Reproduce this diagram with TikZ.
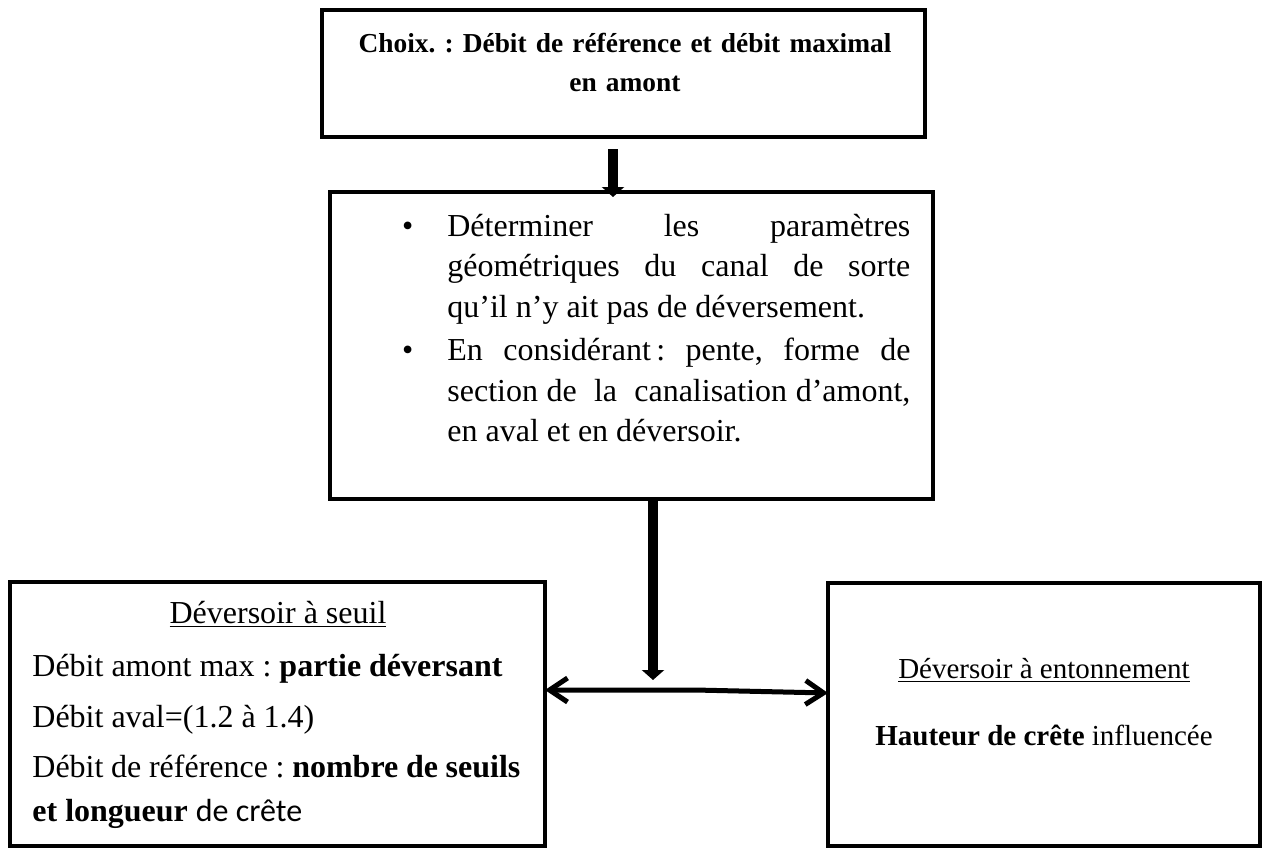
\documentclass[tikz,border=0pt]{standalone}
\usepackage{fontspec}
\setmainfont{Liberation Serif}
\newfontfamily\crestfont{Carlito}
\usetikzlibrary{arrows.meta}
\frenchspacing

\def\boxLine{2pt}
\def\flowShaft{5pt}
\def\linkShaft{2.5pt}

\tikzset{
    stepbox/.style = {draw, line width = \boxLine, inner sep = 0pt, outer sep = 0pt, anchor = north west},
    flowarrow/.style = {line width = \flowShaft, -{Triangle[width = 11pt, length = 5pt]}},
    linkarrow/.style = {line width = \linkShaft, {Straight Barb[length = 9pt, width = 12pt]}-{Straight Barb[length = 9pt, width = 12pt]}},
    boxtext/.style = {inner sep = 0pt, anchor = base west},
}

\begin{document}
\begin{tikzpicture}[x = 0.5pt, y = -0.5pt]
            \useasboundingbox (0,0) rectangle (1263,847);
            \clip (0,0) rectangle (1263,847);
            %% boxes
            \node [stepbox, minimum width = 301.5pt, minimum height = 63.5pt] (choixbox) at (322,10) {};
            \node [stepbox, minimum width = 301.5pt, minimum height = 153.5pt] (criteriabox) at (330,192) {};
            \node [stepbox, minimum width = 267.5pt, minimum height = 132pt] (seuilbox) at (10,582) {};
            \node [stepbox, minimum width = 216pt, minimum height = 131.5pt] (entonnementbox) at (828,583) {};
            %% top text
            \node [inner sep = 0pt, text width = 290pt, align = center, font = \fontsize{13.7}{19.5}\bfseries]
            (choixtext) at (625,62) {
                Choix. : Débit de référence et débit maximal\\en amont
            };
            %% criteria
            \node [boxtext, text width = 231.5pt, align = justify, font = \fontsize{16}{20.25}\selectfont]
            (criteriatext) at (447,236) {
                \tolerance=10000 \hyphenpenalty=10000
                \noindent\llap{\textbullet\hspace{17pt}}Déterminer les paramètres\linebreak
                géométriques du canal de sorte\linebreak
                qu’il n’y ait pas de déversement.\par\vspace{1.5pt}
                \noindent\llap{\textbullet\hspace{17pt}}En considérant\,: pente, forme de\linebreak
                section de\ \ la\ \ canalisation d’amont,\linebreak
                en aval et en déversoir.\par
            };
            %% weir with sill
            \node [inner sep = 0pt, anchor = base, font = \fontsize{16}{20}\selectfont]
            (seuiltitle) at (278,623) {\underline{Déversoir à seuil}};
            \node [boxtext, font = \fontsize{16}{22}\selectfont]
            (seuilamont) at (32,676) {Débit amont max : \textbf{partie déversant}};
            \node [boxtext, font = \fontsize{16}{22}\selectfont]
            (seuilaval) at (32,727) {Débit aval=(1.2 à 1.4)};
            \node [boxtext, text width = 244pt, align = justify, font = \fontsize{16}{22}\selectfont]
            (seuilref) at (32,777) {
                \tolerance=10000 \hyphenpenalty=10000
                Débit de référence : \textbf{nombre de seuils}\linebreak
                \textbf{et longueur} {\crestfont de crête}\par
            };
            %% weir with funnel
            \node [inner sep = 0pt, anchor = base, font = \fontsize{14.5}{17}\selectfont]
            (entonnementtitle) at (1044,678) {\underline{Déversoir à entonnement}};
            \node [inner sep = 0pt, anchor = base, font = \fontsize{14.5}{17}\selectfont]
            (entonnementcrest) at (1044,745) {\textbf{Hauteur de crête} influencée};
            %% arrows
            \coordinate (choixout) at ([xshift = -5.25pt, yshift = -6pt]choixbox.south);
            \coordinate (criteriain) at ([yshift = -2.5pt]criteriabox.north -| choixout);
            \coordinate (junction) at (653,690);
            \coordinate (kink) at (695,690);
            \draw [flowarrow] (choixout) -- (criteriain);
            \draw [flowarrow] (criteriabox.south -| junction) -- ([yshift = 5pt]junction);
            \draw [linkarrow] (seuilbox.east |- junction) -- (kink)
            -- ([yshift = -1.5pt]entonnementbox.west |- junction);
\end{tikzpicture}
\end{document}
